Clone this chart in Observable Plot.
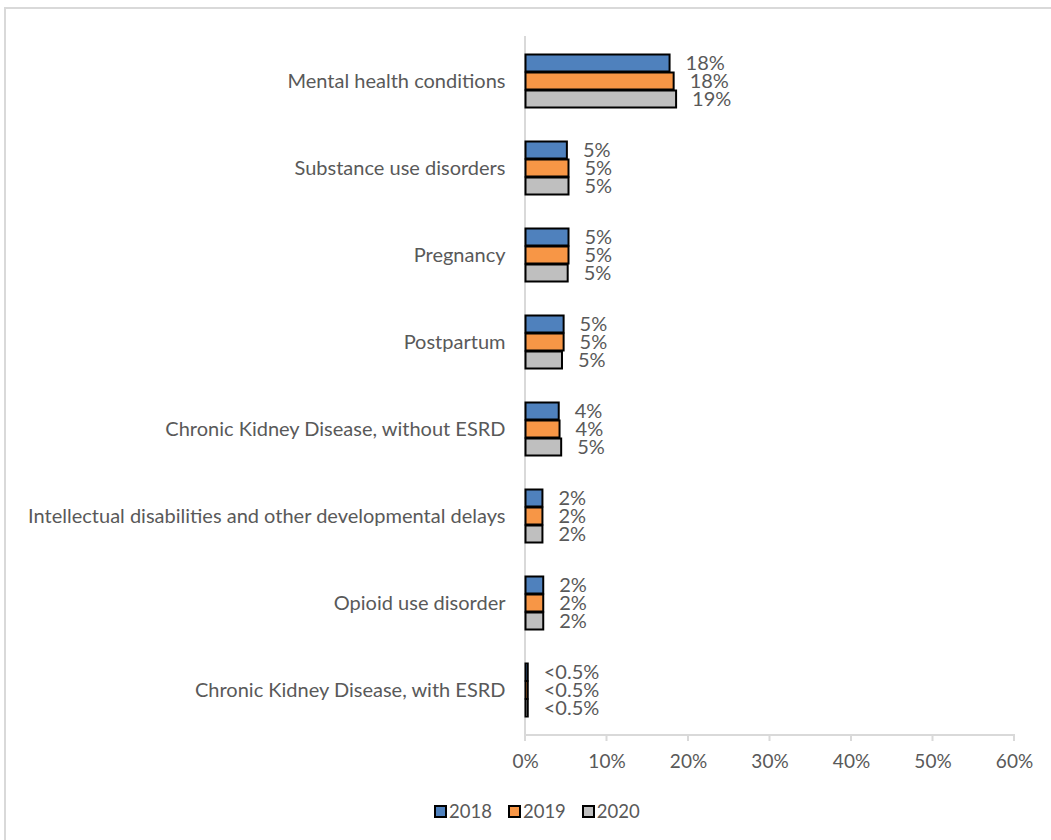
<!DOCTYPE html>
<html>
<head>
<meta charset="utf-8">
<script src="https://cdn.jsdelivr.net/npm/d3@7"></script>
<script src="https://cdn.jsdelivr.net/npm/@observablehq/plot@0.6"></script>
<style>
  body { margin: 0; background: #fff; font-family: Lato, sans-serif; }
  #frame { position: absolute; left: 4px; top: 7px; width: 1100px; height: 900px; border-left: 2px solid #d9d9d9; border-top: 2px solid #d9d9d9; box-sizing: border-box; }
  #chart { position: absolute; left: 0; top: 0; }
  #legend { position: absolute; left: 434px; top: 800px; display: flex; gap: 16px; font-size: 18.5px; color: #595959; }
  .item { display: flex; align-items: center; gap: 2px; }
  .sw { width: 9px; height: 9px; border: 2px solid #000; }
</style>
</head>
<body>
<div id="frame"></div>
<div id="chart"></div>
<div id="legend"></div>
<script>
const categories = [
  "Mental health conditions",
  "Substance use disorders",
  "Pregnancy",
  "Postpartum",
  "Chronic Kidney Disease, without ESRD",
  "Intellectual disabilities and other developmental delays",
  "Opioid use disorder",
  "Chronic Kidney Disease, with ESRD"
];
const years = ["2018", "2019", "2020"];
const colors = ["#4f81bd", "#f79646", "#bfbfbf"];
const v2018 = [17.8, 5.2, 5.4, 4.8, 4.2, 2.2, 2.3, 0.4];
const v2019 = [18.3, 5.4, 5.4, 4.8, 4.3, 2.2, 2.3, 0.4];
const v2020 = [18.6, 5.4, 5.3, 4.6, 4.5, 2.2, 2.3, 0.4];
const l2018 = ["18%", "5%", "5%", "5%", "4%", "2%", "2%", "<0.5%"];
const l2019 = ["18%", "5%", "5%", "5%", "4%", "2%", "2%", "<0.5%"];
const l2020 = ["19%", "5%", "5%", "5%", "5%", "2%", "2%", "<0.5%"];
const xTicks = [0, 10, 20, 30, 40, 50, 60];

(function () {
const series = [v2018, v2019, v2020];
const labels = [l2018, l2019, l2020];
const data = [];
categories.forEach((c, i) => {
  years.forEach((y, j) => {
    data.push({category: c, year: y, value: series[j][i], label: labels[j][i]});
  });
});

const H = 780, MT = 36, MB = 45;
const chart = Plot.plot({
  width: 1051,
  height: H,
  marginTop: MT,
  marginBottom: MB,
  marginLeft: 525,
  marginRight: 37,
  style: {fontFamily: "Lato, sans-serif", fontSize: "19px", color: "#595959", background: "transparent"},
  x: {domain: [0, 60], ticks: xTicks, tickFormat: d => d + "%", label: null},
  fy: {domain: categories, paddingInner: 0.38, paddingOuter: 0.19, label: null},
  y: {domain: years, padding: 0, axis: null},
  color: {domain: years, range: colors},
  marks: [
    Plot.axisX({ticks: xTicks, tickFormat: d => d + "%", tickSize: 0, tickPadding: 37, fill: "#595959", fontSize: 19, label: null}),
    Plot.axisFy({anchor: "left", tickSize: 0, tickPadding: 20, fontSize: 20, fill: "#595959", label: null}),
    Plot.barX(data, {fy: "category", y: "year", x: "value", fill: "year", stroke: "#000", strokeWidth: 2, inset: 0.5}),
    Plot.text(data, {fy: "category", y: "year", x: "value", text: "label", textAnchor: "start", dx: 15, fill: "#595959", fontSize: 20}),
  ]
});
document.getElementById("chart").appendChild(chart);

const svg = d3.select(chart);
const xs = chart.scale("x");
const y0 = MT, y1 = H - MB;
const g = svg.insert("g", ":first-child").attr("stroke", "#d9d9d9").attr("stroke-width", 2);
g.append("line").attr("x1", xs.apply(0)).attr("x2", xs.apply(0)).attr("y1", y0).attr("y2", y1);
g.append("line").attr("x1", xs.apply(0) - 1).attr("x2", xs.apply(60) + 1).attr("y1", y1).attr("y2", y1);
xTicks.forEach(t => {
  g.append("line").attr("x1", xs.apply(t)).attr("x2", xs.apply(t)).attr("y1", y1).attr("y2", y1 + 6);
});

const legend = document.getElementById("legend");
years.forEach((y, j) => {
  const it = document.createElement("div");
  it.className = "item";
  it.innerHTML = `<span class="sw" style="background:${colors[j]}"></span><span>${y}</span>`;
  legend.appendChild(it);
});
})();
</script>
</body>
</html>
